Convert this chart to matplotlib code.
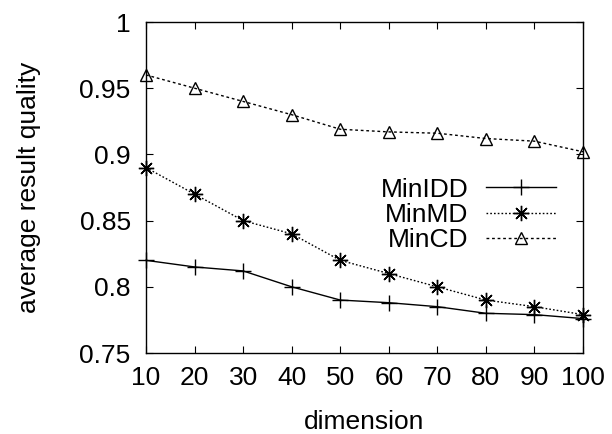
import matplotlib
matplotlib.use("Agg")
import matplotlib.pyplot as plt

plt.rcParams['font.family'] = ['Liberation Sans', 'DejaVu Sans']

dimension = [10, 20, 30, 40, 50, 60, 70, 80, 90, 100]
min_idd = [0.820, 0.815, 0.812, 0.800, 0.790, 0.788, 0.785, 0.780, 0.779, 0.776]
min_md = [0.890, 0.870, 0.850, 0.840, 0.820, 0.810, 0.800, 0.790, 0.785, 0.779]
min_cd = [0.960, 0.950, 0.940, 0.930, 0.919, 0.917, 0.916, 0.912, 0.910, 0.902]

y_ticks = [0.75, 0.8, 0.85, 0.9, 0.95, 1]
y_tick_labels = ['0.75', '0.8', '0.85', '0.9', '0.95', '1']

fig = plt.figure(figsize=(6.12, 4.34), dpi=100)
ax = fig.add_axes([0.2386, 0.1866, 0.714, 0.7627])

ax.plot(dimension, min_idd, color='black', lw=1.0, marker='+', ms=11,
        mew=1.0, label='MinIDD', clip_on=False)
ax.plot(dimension, min_md, color='black', lw=1.0, ls=(0, (1.2, 1.5)),
        marker=(8, 2, 0), ms=11, mew=1.0, label='MinMD', clip_on=False)
ax.plot(dimension, min_cd, color='black', lw=1.0, ls=(0, (2, 2)),
        marker='^', ms=9, mew=1.0, mfc='none', label='MinCD', clip_on=False)

ax.set_xlim(10, 100)
ax.set_ylim(0.75, 1)
ax.set_xticks(dimension)
ax.set_yticks(y_ticks)
ax.set_yticklabels(y_tick_labels)
ax.tick_params(direction='in', top=True, right=True, length=5, width=0.8,
               labelsize=19)
ax.tick_params(axis='y', pad=11)
ax.tick_params(axis='x', pad=9)
for s in ax.spines.values():
    s.set_linewidth(1.0)

ax.set_xlabel('dimension', fontsize=19, labelpad=15)
ax.set_ylabel('average result quality', fontsize=19, labelpad=28)

leg = ax.legend(loc='upper right', bbox_to_anchor=(0.968, 0.57), frameon=False,
                markerfirst=False, fontsize=19, handlelength=2.65,
                handletextpad=0.65, labelspacing=0.05, borderpad=0)
for t in leg.get_texts():
    t.set_ha('right')

fig.savefig('out.png', dpi=100)
